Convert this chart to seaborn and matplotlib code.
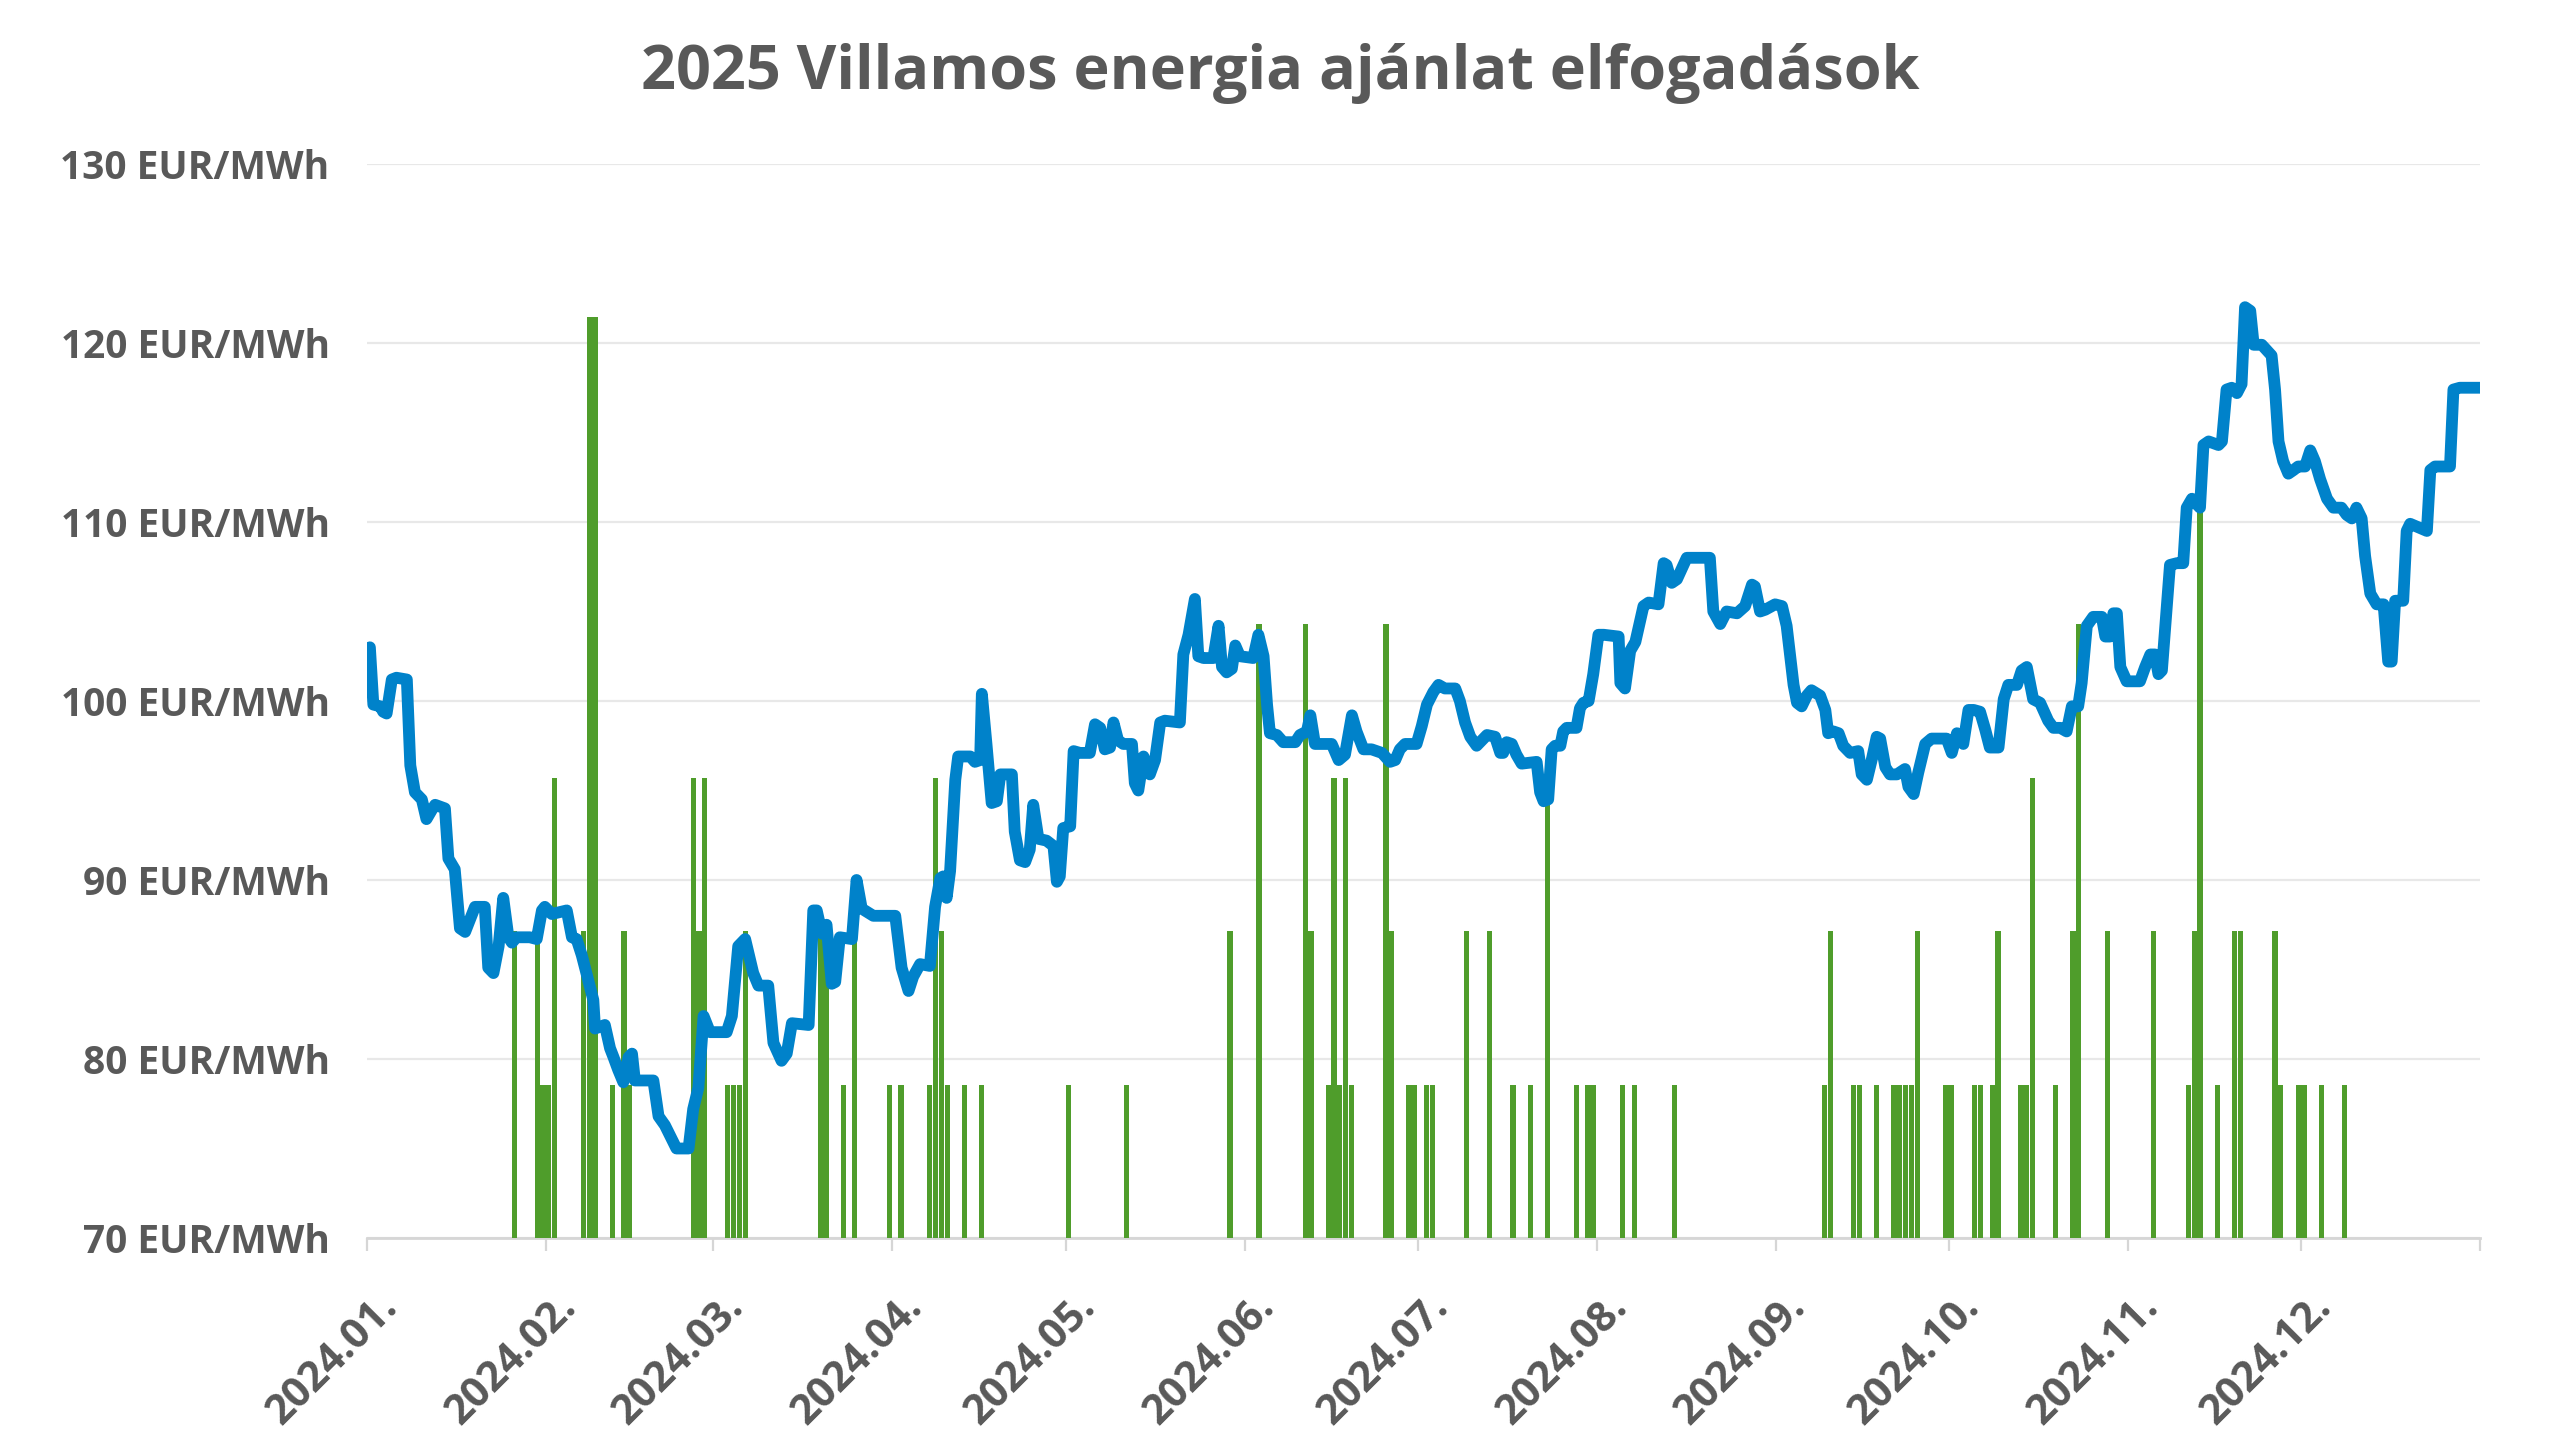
import numpy as np
import matplotlib
matplotlib.use("Agg")
import matplotlib.pyplot as plt
import matplotlib.transforms as mtransforms
import seaborn as sns

# ---------------- data ----------------
title = "2025 Villamos energia ajánlat elfogadások"
month_labels = ["2024.01.", "2024.02.", "2024.03.", "2024.04.", "2024.05.", "2024.06.",
                "2024.07.", "2024.08.", "2024.09.", "2024.10.", "2024.11.", "2024.12."]
month_start_days = [0, 31, 60, 91, 121, 152, 182, 213, 244, 274, 305, 335, 366]
y_ticks = [70, 80, 90, 100, 110, 120, 130]

# day index within 2024 (0 = Jan 1) and price (EUR/MWh)
price_day = [0.0, 0.6, 1.8, 2.3, 2.9, 3.8, 4.6, 6.4, 7.0, 7.8, 9.0, 9.8, 10.7, 11.3, 13.0, 13.6,
             14.7, 15.6, 16.5, 17.6, 18.2, 19.9, 20.5, 21.4, 22.3, 23.1, 24.0, 24.6, 25.4, 27.7,
             28.9, 29.8, 30.3, 31.5, 34.1, 35.0, 35.8, 36.7, 38.7, 39.0, 40.7, 41.6, 42.2, 43.0,
             43.9, 44.8, 45.4, 45.9, 49.1, 50.0, 51.1, 53.1, 55.2, 56.0, 56.9, 57.8, 58.9, 61.8,
             62.7, 63.8, 65.0, 66.4, 67.3, 69.0, 69.9, 71.3,
             72.2, 73.1, 76.0, 76.8, 77.4, 78.3, 79.1, 80.0, 80.6, 81.4, 83.5, 84.3, 85.2, 87.2,
             91.0, 92.1, 93.3, 94.1, 95.3, 97.0, 97.9, 98.8, 99.3, 99.9, 100.5, 101.4, 101.9,
             104.0, 104.8, 105.7, 106.0, 106.8, 107.7, 108.6, 109.2, 111.2, 111.7, 112.6, 113.5,
             114.3, 114.9, 115.8, 117.2, 118.4, 119.0, 119.5, 120.1, 121.3, 121.9, 123.0, 124.7,
             125.6, 126.5, 127.3, 128.2, 128.8, 129.6, 130.5, 132.0, 132.5, 133.1, 134.0, 135.1,
             136.0, 136.9, 137.7, 140.3, 140.9, 141.8, 142.9, 143.5,
             144.4, 146.1, 147.0, 147.6, 148.4, 149.3, 149.9, 150.7, 153.0, 153.9, 154.8, 155.4,
             155.9, 157.1, 158.2, 160.3, 161.1, 162.3, 162.9, 163.7, 164.9, 166.6, 167.8, 168.9,
             170.1, 170.9, 172.1, 173.5, 175.3, 176.7, 177.6, 178.4, 179.3, 181.3, 182.2, 183.1,
             184.2, 185.1, 186.2, 188.0, 188.8, 189.7, 190.6, 191.7, 192.6, 193.5, 194.9, 195.8,
             196.3, 196.9, 197.8, 198.6, 199.5, 202.1, 202.7, 203.3, 204.1, 204.7, 205.3, 206.2,
             206.7, 207.3, 209.0, 209.6, 210.2, 211.1, 211.9, 212.8, 213.7, 216.3, 216.6, 217.4,
             218.3,
             219.2, 220.6, 221.5, 223.2, 224.1, 224.6, 225.5, 226.4, 228.1, 232.1, 232.7, 233.9,
             235.0, 236.8, 238.2, 239.4, 239.9, 240.8, 241.7, 243.4, 244.6, 245.4, 246.6, 247.2,
             248.0, 248.9, 249.7, 251.2, 252.1, 252.6, 253.5, 254.4, 255.2, 256.4, 257.8, 258.4,
             259.3, 260.2, 261.0, 261.6, 262.5, 263.3, 264.5, 265.9, 266.5, 267.4, 268.2, 269.4,
             270.5, 273.1, 274.0, 274.9, 276.0, 276.9, 277.8, 278.9, 279.8, 280.6, 282.1, 283.0,
             283.8, 285.3, 286.1, 287.0, 288.1, 289.3, 290.7, 291.6,
             292.8, 293.9, 294.8, 295.9, 296.5, 297.4, 298.5, 300.0, 300.6, 301.4, 302.0, 302.6,
             303.2, 304.3, 306.6, 307.5, 308.4, 309.2, 309.8, 310.4, 311.0, 311.8, 313.0, 314.1,
             314.7, 315.6, 316.1, 317.0, 317.6, 318.5, 320.2, 320.8, 321.6, 322.5, 323.4, 324.2,
             324.8, 325.7, 326.3, 327.7, 329.4, 330.0, 330.6, 331.4, 332.3, 333.2, 334.0, 335.2,
             336.1, 336.9, 337.8, 339.0, 340.1, 341.5, 342.4, 343.3, 344.1, 345.0, 345.6, 346.5,
             347.6, 348.8, 349.6, 350.2, 350.8, 352.2, 352.8, 353.4, 356.3, 356.9, 357.7, 360.3,
             360.9, 362.0, 365.5]
price_eur = [103.0, 99.8, 99.7, 99.4, 99.3, 101.2, 101.3, 101.2, 96.4, 94.9, 94.5, 93.4, 93.9, 94.2, 94.0, 91.2,
             90.6, 87.3, 87.1, 88.0, 88.5, 88.5, 85.1, 84.8, 86.3, 89.0, 86.8, 86.5, 86.8, 86.8,
             86.7, 88.3, 88.5, 88.1, 88.3, 86.8, 86.7, 85.8, 83.3, 81.7, 81.9, 80.6, 80.1, 79.4,
             78.7, 80.1, 80.3, 78.8, 78.8, 76.8, 76.3, 75.0, 75.0, 77.2, 78.4, 82.4, 81.5, 81.5,
             82.4, 86.3, 86.7, 84.8, 84.1, 84.1, 80.9, 79.9,
             80.3, 82.0, 81.9, 88.3, 88.3, 87.0, 87.5, 84.2, 84.3, 86.8, 86.7, 90.0, 88.4, 88.0,
             88.0, 85.1, 83.8, 84.6, 85.3, 85.2, 88.5, 90.1, 90.2, 89.0, 90.5, 95.6, 96.9,
             96.9, 96.6, 96.7, 100.4, 97.6, 94.3, 94.4, 95.9, 95.9, 92.7, 91.1, 91.0,
             91.7, 94.2, 92.3, 92.2, 91.9, 89.9, 90.2, 92.9, 93.0, 97.2, 97.1, 97.1,
             98.7, 98.5, 97.3, 97.4, 98.8, 97.8, 97.6, 97.6, 95.4, 95.0, 96.9, 95.9,
             96.7, 98.8, 98.9, 98.8, 102.6, 103.7, 105.7, 102.5,
             102.4, 102.4, 104.2, 101.9, 101.6, 101.8, 103.1, 102.5, 102.4, 103.7, 102.5, 99.8,
             98.2, 98.1, 97.7, 97.7, 98.1, 98.3, 99.2, 97.6, 97.6, 97.6, 96.7, 97.0,
             99.2, 98.3, 97.3, 97.3, 97.1, 96.6, 96.7, 97.3, 97.6, 97.6, 98.6, 99.8,
             100.5, 100.9, 100.7, 100.7, 100.0, 98.8, 98.0, 97.5, 97.8, 98.1, 98.0, 97.1,
             97.1, 97.7, 97.6, 97.0, 96.5, 96.6, 94.9, 94.4, 94.5, 97.3, 97.5, 97.5,
             98.3, 98.5, 98.5, 99.6, 99.9, 100.0, 101.5, 103.7, 103.7, 103.6, 101.0, 100.7,
             102.8,
             103.3, 105.3, 105.5, 105.4, 107.7, 107.6, 106.6, 106.8, 108.0, 108.0, 105.0, 104.3,
             105.0, 104.9, 105.3, 106.5, 106.4, 105.0, 105.1, 105.4, 105.3, 104.2, 100.9, 99.9,
             99.7, 100.3, 100.6, 100.3, 99.5, 98.2, 98.3, 98.2, 97.5, 97.1, 97.2, 95.9,
             95.6, 96.8, 98.0, 97.9, 96.3, 95.9, 95.9, 96.2, 95.2, 94.8, 96.0, 97.6,
             97.9, 97.9, 97.1, 98.2, 97.6, 99.5, 99.5, 99.4, 98.4, 97.4, 97.4, 100.1,
             100.9, 100.9, 101.7, 101.9, 100.1, 99.9, 98.9, 98.5,
             98.5, 98.3, 99.7, 99.7, 101.0, 104.2, 104.7, 104.7, 103.6, 103.6, 104.9, 104.9,
             101.9, 101.1, 101.1, 101.9, 102.6, 102.6, 101.5, 101.7, 104.2, 107.6, 107.7, 107.7,
             110.8, 111.3, 111.1, 110.8, 114.3, 114.5, 114.3, 114.5, 117.4, 117.5, 117.2, 117.7,
             122.0, 121.8, 119.9, 119.9, 119.3, 117.4, 114.5, 113.4, 112.7, 112.9, 113.1, 113.1,
             114.0, 113.4, 112.4, 111.3, 110.8, 110.8, 110.4, 110.2, 110.8, 110.2, 108.1, 106.0,
             105.4, 105.4, 102.2, 102.2, 105.6, 105.6, 109.5, 109.9, 109.5, 112.9, 113.1, 113.1,
             117.4, 117.5, 117.5]

# accepted offers: day index and number of acceptances that day
accept_day = [25, 29, 30, 31, 32, 37, 38, 39, 42, 44, 45, 56, 57, 58, 62, 63, 64, 65,
              78, 79, 82, 84, 90, 92, 97, 98, 99, 100, 103, 106, 121, 131,
              149, 154, 162, 163, 166, 167, 168, 169, 170, 176, 177, 180, 181, 183, 184,
              190, 194, 198, 201, 204, 209, 211, 212, 217, 219, 226,
              252, 253, 257, 258, 261, 264, 265, 266, 267, 268, 273, 274, 278, 279,
              281, 282, 286, 287, 288, 292, 295, 296, 301, 309, 315, 316, 317, 320,
              323, 324, 330, 331, 334, 335, 338, 342]
accept_count = [2, 2, 1, 1, 3, 2, 6, 6, 1, 2, 1, 3, 2, 3, 1, 1, 1, 2,
                2, 2, 1, 2, 1, 1, 1, 3, 2, 1, 1, 1, 1, 1,
                2, 4, 4, 2, 1, 3, 1, 3, 1, 4, 2, 1, 1, 1, 1,
                2, 2, 1, 1, 3, 1, 1, 1, 1, 1, 1,
                1, 2, 1, 1, 1, 1, 1, 1, 1, 2, 1, 1, 1, 1,
                1, 2, 1, 1, 3, 1, 2, 4, 2, 2, 1, 2, 5, 1,
                2, 2, 2, 1, 1, 1, 1, 1]

# ---------------- style ----------------
TEXT = "#595959"
BLUE = "#0082CA"
GREEN = "#4F9D2B"
GRID = "#e8e8e8"
AXIS = "#d6d6d6"

sns.set_theme(style="white")
plt.rcParams["font.family"] = ["Open Sans", "DejaVu Sans"]

fig = plt.figure(figsize=(25.6, 14.42), dpi=100)
ax = fig.add_axes([0.14336, 0.14147, 0.82539, 0.7448])

# bars on a hidden twin axis (count scale 0..7)
ax_b = ax.twinx()
sns.barplot(x=np.array(accept_day) + 0.5, y=accept_count, native_scale=True, width=0.9,
            color=GREEN, saturation=1, errorbar=None, linewidth=0, ax=ax_b)
ax_b.set_ylim(0, 7)
ax_b.axis("off")

# price line on another hidden twin (same EUR scale as main axis), on top
ax_l = ax.twinx()
sns.lineplot(x=np.array(price_day) + 0.5, y=price_eur, ax=ax_l, color=BLUE, linewidth=8.5,
             estimator=None, sort=False, solid_capstyle="round", solid_joinstyle="round")
ax_l.set_ylim(70, 130)
ax_l.axis("off")

# main axis decorations
ax.set_ylim(70, 130)
ax.set_yticks(y_ticks)
ax.set_yticklabels([f"{v} EUR/MWh" for v in y_ticks], fontweight="bold")
ax.grid(axis="y", color=GRID, linewidth=1.6)
ax.grid(axis="x", visible=False)
ax.set_axisbelow(True)
for s in ["left", "right", "top"]:
    ax.spines[s].set_visible(False)
ax.spines["bottom"].set_color(AXIS)
ax.spines["bottom"].set_linewidth(2)
ax.tick_params(axis="y", length=0, pad=27, labelsize=28, labelcolor=TEXT)

ax.set_xlim(0, 366)
ax.set_xticks(month_start_days)
ax.set_xticklabels(month_labels + [""], fontweight="bold")
ax.tick_params(axis="x", bottom=True, length=9, width=1.6, color=AXIS, pad=26,
               labelsize=30, labelcolor=TEXT)
offset = mtransforms.ScaledTranslation(10 / 100, 0, fig.dpi_scale_trans)
for lbl in ax.get_xticklabels():
    lbl.set_rotation(45)
    lbl.set_ha("right")
    lbl.set_va("top")
    lbl.set_rotation_mode("anchor")
    lbl.set_transform(lbl.get_transform() + offset)
ax.set_xlabel("")
ax.set_ylabel("")

fig.text(0.5, 1 - 73 / 1442, title, ha="center", va="center", fontsize=44,
         fontweight="bold", color=TEXT)

fig.savefig("out.png", dpi=100)
